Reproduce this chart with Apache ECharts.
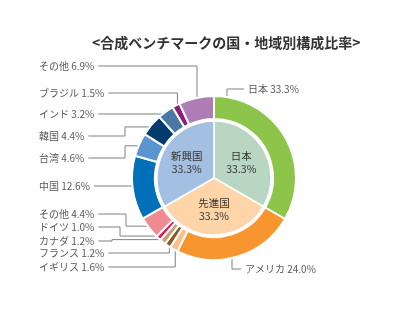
<!DOCTYPE html>
<html>
<head>
<meta charset="utf-8">
<script src="https://cdn.jsdelivr.net/npm/echarts@6/dist/echarts.min.js"></script>
<style>
html,body{margin:0;padding:0;background:#fff;}
#chart{width:400px;height:330px;}
</style>
</head>
<body>
<div id="chart"></div>
<script>
// ---- data ----
const titleText = '<合成ベンチマークの国・地域別構成比率>';
const innerNames = ['日本', '先進国', '新興国'];
const innerValues = [33.3, 33.3, 33.3];
const outerNames = ['日本', 'アメリカ', 'イギリス', 'フランス', 'カナダ', 'ドイツ', 'その他',
                    '中国', '台湾', '韓国', 'インド', 'ブラジル', 'その他'];
const outerValues = [33.3, 24.0, 1.6, 1.2, 1.2, 1.0, 4.4, 12.6, 4.6, 4.4, 3.2, 1.5, 6.9];

// ---- styles / layout ----
const innerColors = ['#B9D6C3', '#FDD5A8', '#A3BFE1'];
const outerColors = ['#8DC54B', '#F7962F', '#FDBF86', '#8B5A20', '#C69F78', '#E5195A', '#F08A91',
                     '#0070B9', '#5B95D0', '#003D6E', '#4A79A5', '#8C1C7E', '#B07CB6'];
const CX = 214, CY = 178, R_IN = 57, R0 = 59, R1 = 82;
// label anchor position [x, y] and elbow x (null = vertical straight from segment)
const labelPos = [[248, 89], [245, 269], [39, 267], [39, 253], [39, 241], [39, 227], [39, 214],
                  [39, 186], [39, 158], [39, 136], [39, 114], [39, 93], [39, 66]];
const elbowX = [227, 232, null, null, 112, 120, 126, null, 125, 125, null, null, null];

const FONT = '"Noto Sans CJK JP", "Noto Sans", sans-serif';

const chart = echarts.init(document.getElementById('chart'), null, {renderer: 'canvas'});

function layoutOuter(params) {
  const i = params.dataIndex;
  const lx = labelPos[i][0], ly = labelPos[i][1];
  const w = params.labelRect.width;
  const isRight = lx > CX;
  let pts;
  if (isRight) {
    const ex = elbowX[i];
    const rr = R1 - 4;
    const dy = Math.sqrt(rr * rr - (ex - CX) * (ex - CX));
    const ay = ly < CY ? CY - dy : CY + dy;
    pts = [[lx - 4, ly], [ex, ly], [ex, ay]];
  } else {
    const p0 = params.labelLinePoints ? params.labelLinePoints[0] : [CX, CY];
    const k = (R1 - 3) / R1;
    const ax = CX + (p0[0] - CX) * k, ay = CY + (p0[1] - CY) * k;
    const sx = lx + w + 4;
    const ex = elbowX[i];
    if (ex == null) {
      pts = [[sx, ly], [ax, ly], [ax, ay]];
    } else {
      pts = [[sx, ly], [ex, ly], [ex, ay], [ax, ay]];
    }
  }
  return {x: lx, y: ly, align: 'left', verticalAlign: 'middle', labelLinePoints: pts};
}

const option = {
  backgroundColor: '#fff',
  animation: false,
  title: {
    text: titleText,
    left: 87,
    top: 31,
    textStyle: {fontFamily: FONT, fontSize: 14, fontWeight: 'bold', color: '#333'}
  },
  series: [
    {
      type: 'pie',
      center: [CX, CY],
      radius: [0, R_IN],
      startAngle: 90,
      clockwise: true,
      silent: true,
      itemStyle: {borderColor: '#fff', borderWidth: 1.5},
      label: {
        position: 'inner',
        fontFamily: FONT,
        fontSize: 10.5,
        lineHeight: 13,
        color: '#333',
        formatter: p => p.name + '\n' + p.value.toFixed(1) + '%'
      },
      labelLine: {show: false},
      data: innerNames.map((n, i) => ({name: n, value: innerValues[i], itemStyle: {color: innerColors[i]}}))
    },
    {
      type: 'pie',
      center: [CX, CY],
      radius: [R0, R1],
      startAngle: 90,
      clockwise: true,
      silent: true,
      avoidLabelOverlap: false,
      itemStyle: {borderColor: '#fff', borderWidth: 2},
      label: {
        position: 'outside',
        fontFamily: FONT,
        fontSize: 10,
        color: '#595959',
        formatter: p => p.name + ' ' + p.value.toFixed(1) + '%'
      },
      labelLine: {show: true, length: 10, length2: 10, smooth: false,
                  lineStyle: {color: '#808080', width: 1}},
      labelLayout: layoutOuter,
      data: outerNames.map((n, i) => ({name: n, value: outerValues[i], itemStyle: {color: outerColors[i]}}))
    }
  ]
};
chart.setOption(option);
</script>
</body>
</html>
